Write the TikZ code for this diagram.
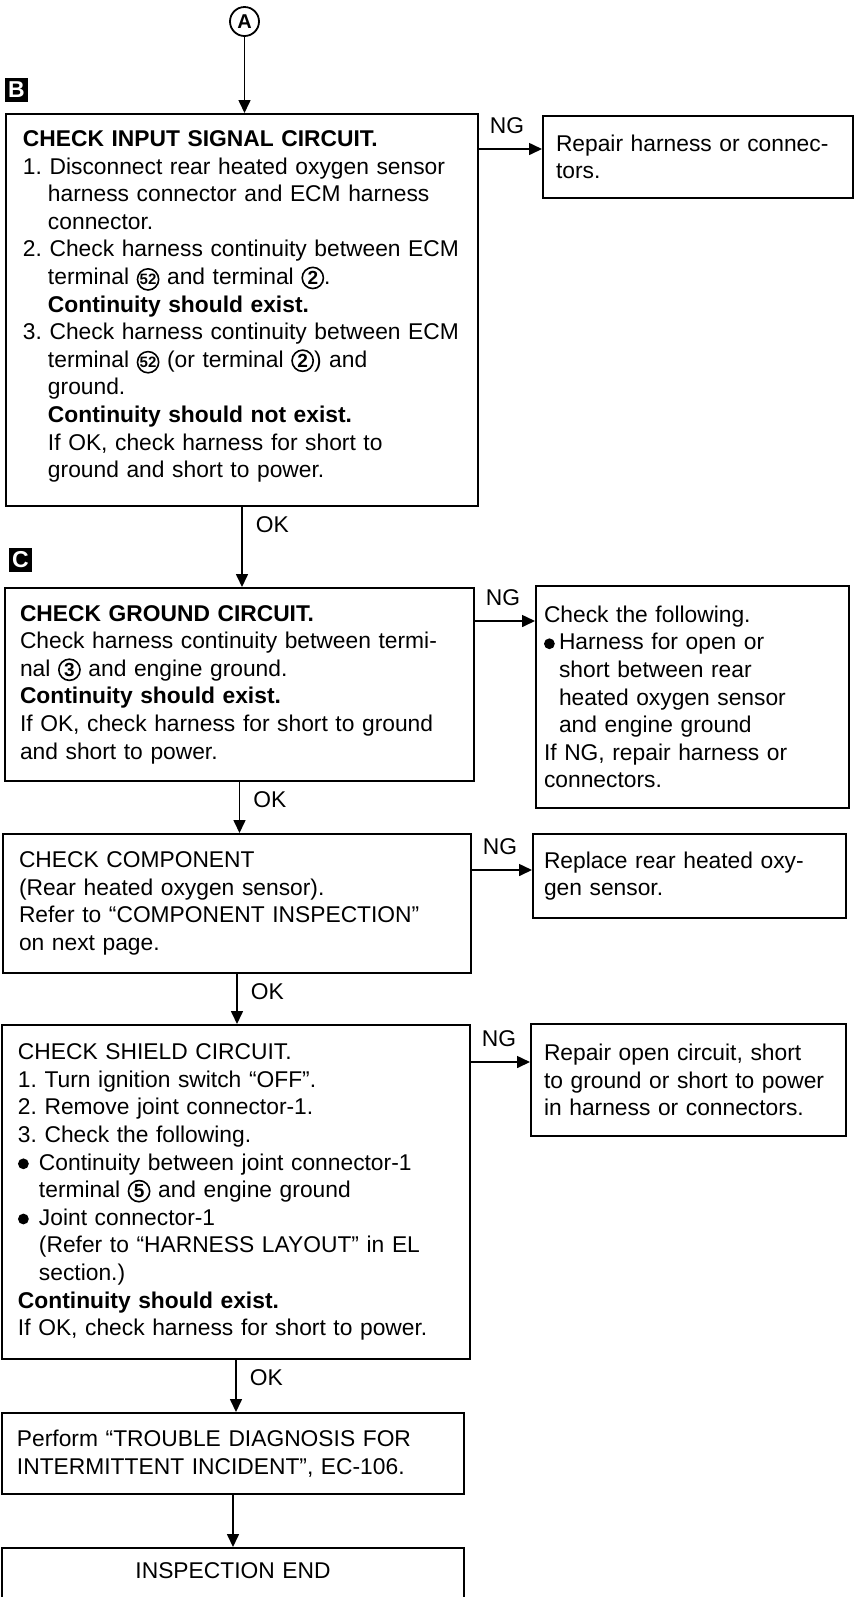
\documentclass[tikz,border=0pt]{standalone}
\usepackage{fontspec}
\setmainfont{Liberation Sans}
\usepackage{tikz}
\usetikzlibrary{arrows.meta}

\newcommand{\cn}[2][\fontsize{9.5}{9.5}\selectfont]{\tikz[baseline=(cn.base)]\node[circle, draw, line width=0.8pt, inner sep=0pt, minimum size=10.6pt, font=\bfseries#1] (cn) {#2};}
\newcommand{\hind}{\hspace*{12.5pt}}
\newcommand{\blt}[1][7.5pt]{\makebox[#1][l]{\tikz[baseline=0pt]\fill (2.7pt,3.1pt) circle[radius=2.7pt];}}

\begin{document}
\frenchspacing
\begin{tikzpicture}[x=0.5pt, y=-0.5pt,
  font=\fontsize{11.4}{13.8}\selectfont,
  panel/.style={draw, rectangle, line width=1pt, anchor=north west, align=left, inner ysep=0pt},
  tag/.style={fill=black, text=white, inner sep=0pt, minimum width=11.5pt, minimum height=12pt,
              font=\bfseries\fontsize{11.5}{11.5}\selectfont},
  arr/.style={-{Triangle[length=6.5pt, width=6pt]}, line width=0.8pt},
  ng/.style={pos=0, anchor=south west, inner sep=0pt, xshift=5pt, yshift=7pt},
  ok/.style={pos=0, anchor=north west, inner sep=0pt, xshift=6.5pt, yshift=-4.5pt}
]
  \useasboundingbox (0,0) rectangle (855,1597);

  \node[circle, draw, line width=0.9pt, minimum size=14.5pt, inner sep=0pt,
        font=\bfseries\fontsize{10}{10}\selectfont] (pa) at (244.5,21.5) {A};
  \node[tag] (tb) at (16.5,90) {B};
  \node[tag] (tc) at (20.5,560) {C};

  \node[panel, text width=219pt, inner xsep=8.5pt, minimum height=196pt] (inp) at (5,113) {%
    \textbf{CHECK INPUT SIGNAL CIRCUIT.}\\
    1. Disconnect rear heated oxygen sensor\\
    \hind harness connector and ECM harness\\
    \hind connector.\\
    2. Check harness continuity between ECM\\
    \hind terminal \cn[\fontsize{7.5}{7.5}\selectfont]{52} and terminal \cn{2}.\\
    \hind\textbf{Continuity should exist.}\\
    3. Check harness continuity between ECM\\
    \hind terminal \cn[\fontsize{7.5}{7.5}\selectfont]{52} (or terminal \cn{2}) and\\
    \hind ground.\\
    \hind\textbf{Continuity should not exist.}\\
    \hind If OK, check harness for short to\\
    \hind ground and short to power.\par\vspace{-8pt}\hbox{}};
  \node[panel, text width=142pt, inner xsep=6.5pt, minimum height=41pt] (rep1) at (542,115) {%
    Repair harness or connec-\\
    tors.};

  \node[panel, text width=219.5pt, inner xsep=7.5pt, minimum height=96.5pt] (gnd) at (4,587) {%
    \textbf{CHECK GROUND CIRCUIT.}\\
    Check harness continuity between termi-\\
    nal \cn{3} and engine ground.\\
    \textbf{Continuity should exist.}\\
    If OK, check harness for short to ground\\
    and short to power.};
  \node[panel, text width=148.5pt, inner xsep=4pt, minimum height=111pt] (chkf) at (535,585) {%
    Check the following.\\
    \blt Harness for open or\\
    \hspace*{7.5pt}short between rear\\
    \hspace*{7.5pt}heated oxygen sensor\\
    \hspace*{7.5pt}and engine ground\\
    If NG, repair harness or\\
    connectors.};

  \node[panel, text width=218pt, inner xsep=8pt, minimum height=69.5pt] (comp) at (2,833) {%
    CHECK COMPONENT\\
    (Rear heated oxygen sensor).\\
    Refer to “COMPONENT INSPECTION”\\
    on next page.};
  \node[panel, text width=145.5pt, inner xsep=5.5pt, minimum height=42pt] (repl) at (532,833) {%
    Replace rear heated oxy-\\
    gen sensor.};

  \node[panel, text width=218pt, inner xsep=8pt, minimum height=167pt] (shld) at (1,1024) {%
    CHECK SHIELD CIRCUIT.\\
    1. Turn ignition switch “OFF”.\\
    2. Remove joint connector-1.\\
    3. Check the following.\\
    \blt[10.5pt]Continuity between joint connector-1\\
    \hspace*{10.5pt}terminal \cn{5} and engine ground\\
    \blt[10.5pt]Joint connector-1\\
    \hspace*{10.5pt}(Refer to “HARNESS LAYOUT” in EL\\
    \hspace*{10.5pt}section.)\\
    \textbf{Continuity should exist.}\\
    If OK, check harness for short to power.};
  \node[panel, text width=144.5pt, inner xsep=6.5pt, minimum height=56pt] (rep2) at (530,1023) {%
    Repair open circuit, short\\
    to ground or short to power\\
    in harness or connectors.};

  \node[panel, text width=216pt, inner xsep=7.5pt, minimum height=40.5pt] (intm) at (1,1412) {%
    Perform “TROUBLE DIAGNOSIS FOR\\
    INTERMITTENT INCIDENT”, EC-106.};
  \node[panel, align=center, text width=216pt, inner xsep=7.5pt, text height=15pt, text depth=20pt] (endi) at (1,1547) {INSPECTION END};

  \draw[arr] (pa) -- (pa |- inp.north);
  \draw[arr] ([yshift=-18pt]inp.north east) -- node[ng]{NG} ([yshift=-18pt]inp.north east -| rep1.west);
  \draw[arr] (inp.south) -- node[ok]{OK} (inp.south |- gnd.north);
  \draw[arr] ([yshift=-17pt]gnd.north east) -- node[ng]{NG} ([yshift=-17pt]gnd.north east -| chkf.west);
  \draw[arr] (gnd.south) -- node[ok]{OK} (gnd.south |- comp.north);
  \draw[arr] ([yshift=-18.5pt]comp.north east) -- node[ng]{NG} ([yshift=-18.5pt]comp.north east -| repl.west);
  \draw[arr] (comp.south) -- node[ok]{OK} (comp.south |- shld.north);
  \draw[arr] ([yshift=-19pt]shld.north east) -- node[ng]{NG} ([yshift=-19pt]shld.north east -| rep2.west);
  \draw[arr] (shld.south) -- node[ok]{OK} (shld.south |- intm.north);
  \draw[arr] (intm.south) -- (intm.south |- endi.north);
\end{tikzpicture}
\end{document}
